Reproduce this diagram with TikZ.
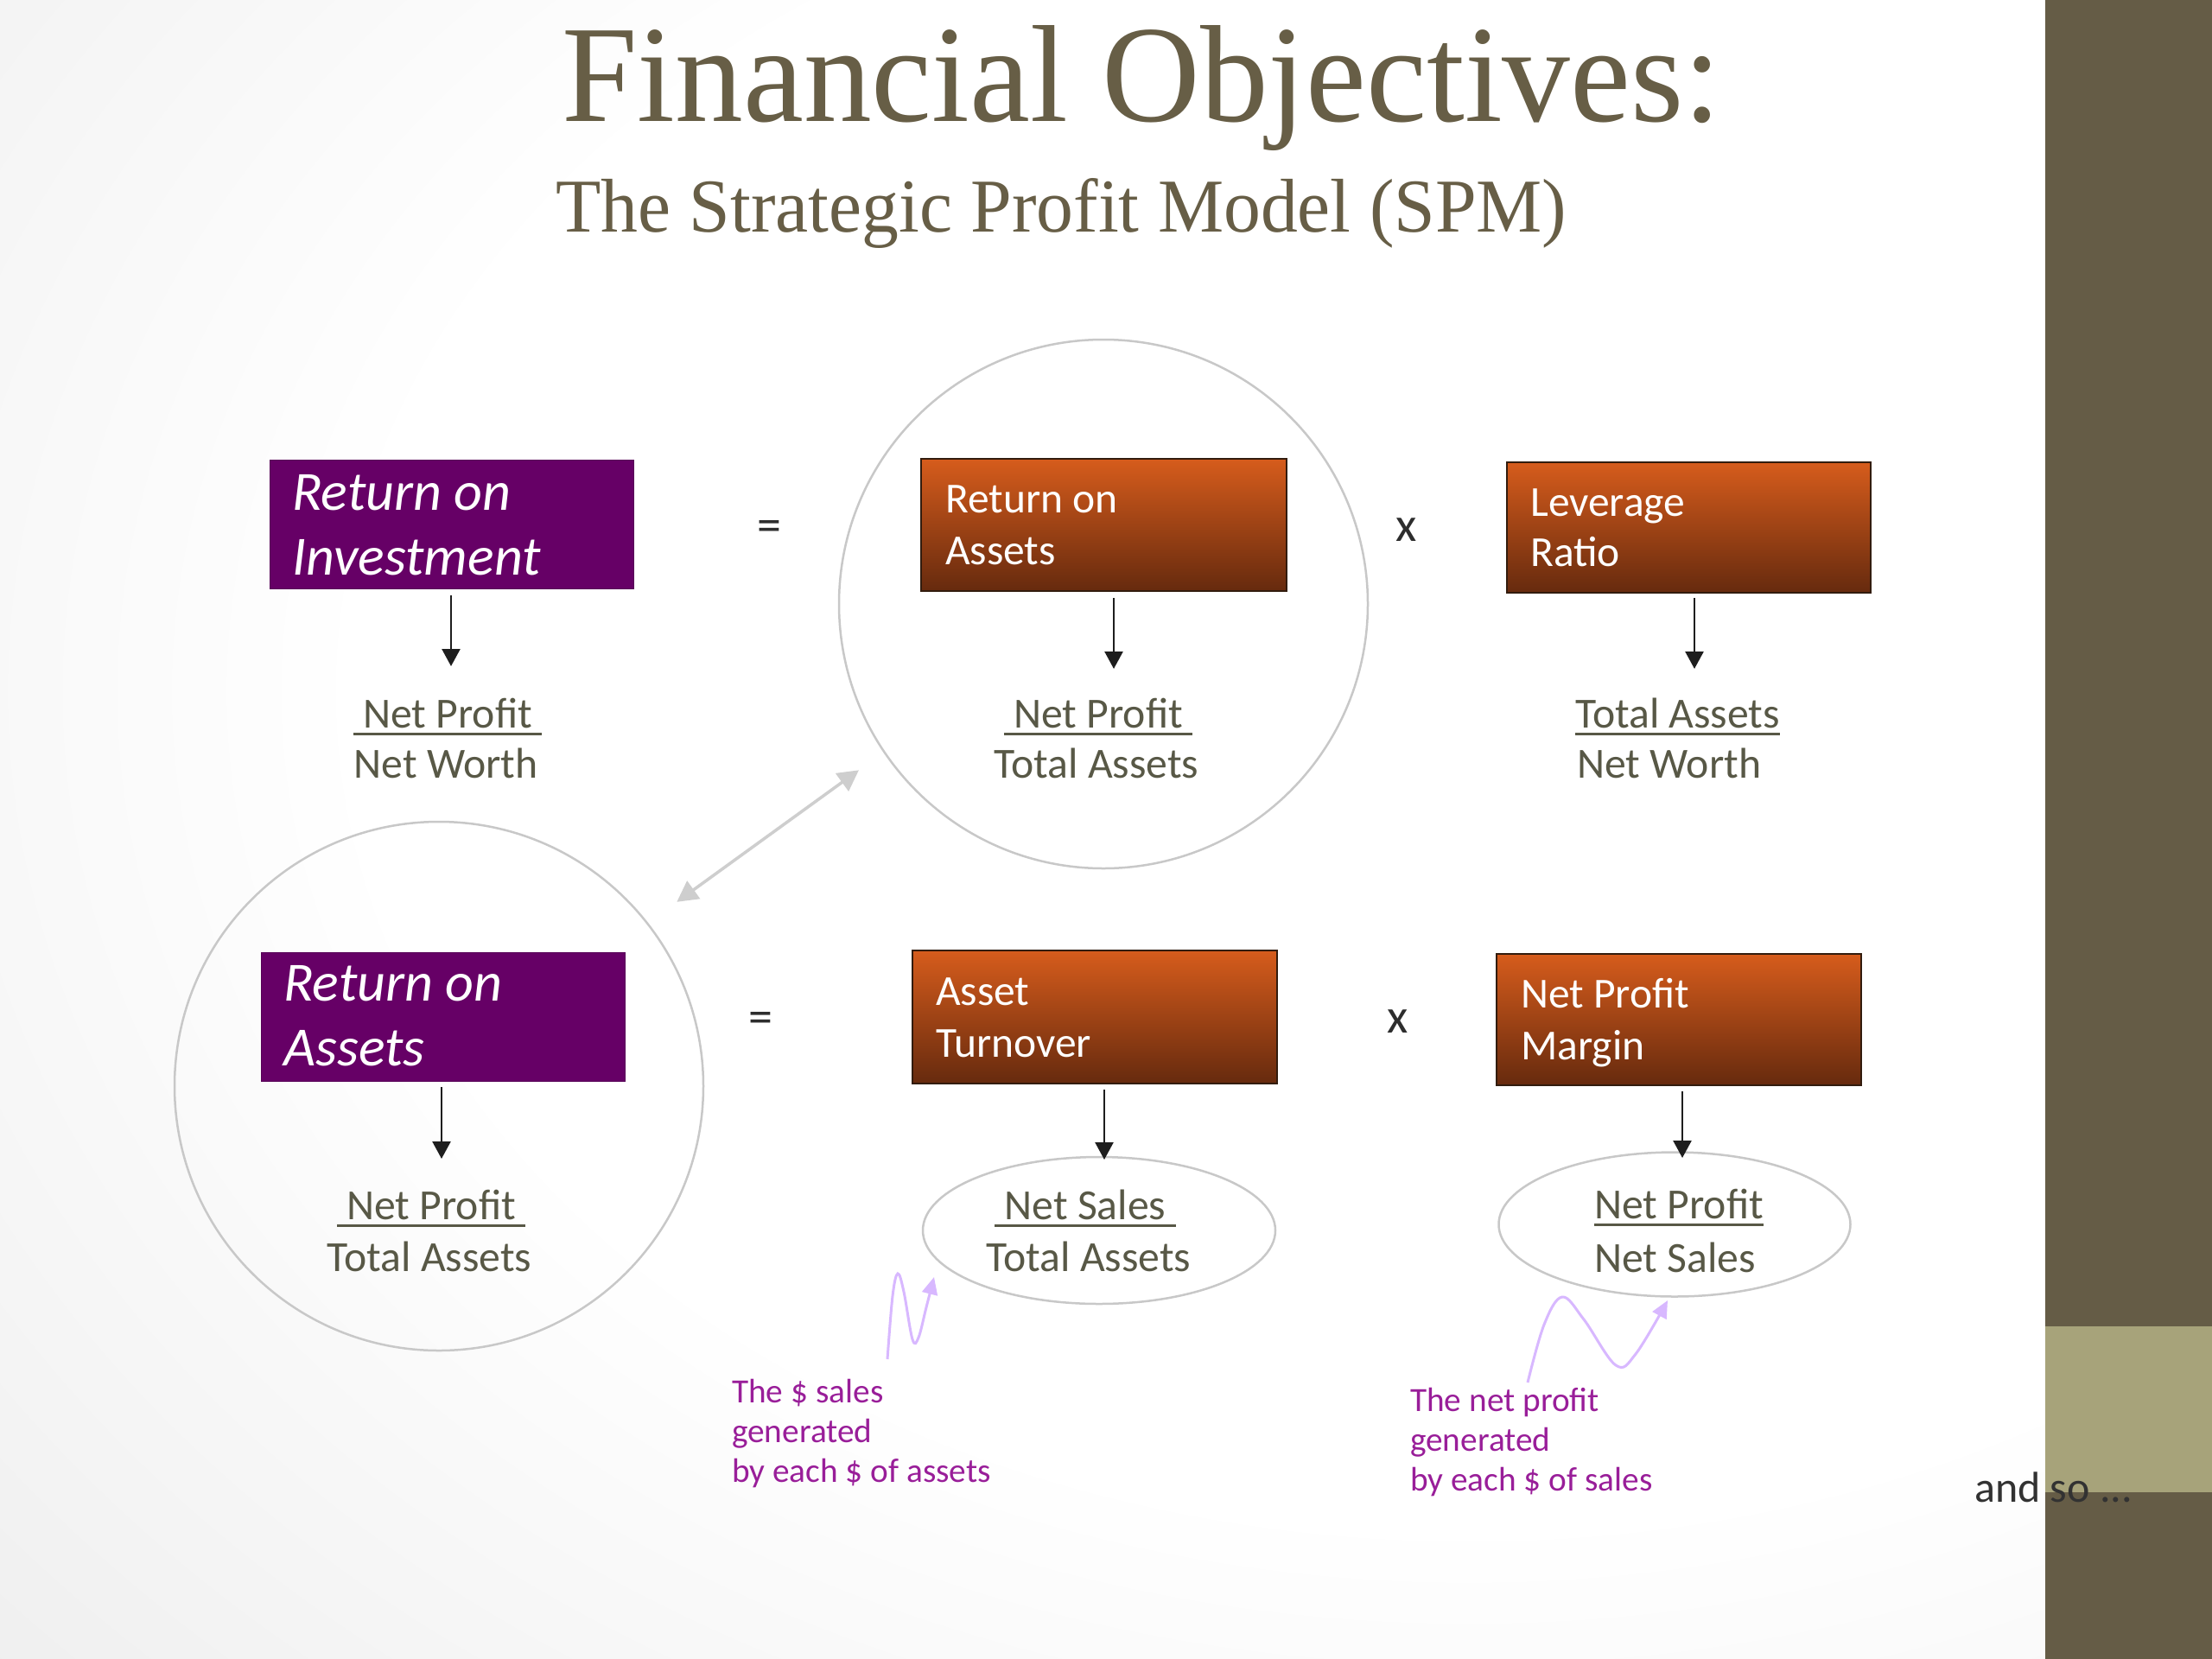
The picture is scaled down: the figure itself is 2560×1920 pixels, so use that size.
\documentclass[tikz,border=0pt]{standalone}
\usepackage{fontspec}
\setmainfont{Carlito}
\newfontfamily\titlefont{Liberation Serif}
\usepackage{graphicx}
\usetikzlibrary{arrows.meta,shapes.geometric}
\definecolor{bggray}{RGB}{212,212,212}
\definecolor{titleC}{RGB}{103,94,70}
\definecolor{fracC}{RGB}{88,88,70}
\definecolor{annoC}{RGB}{153,30,153}
\definecolor{squigC}{RGB}{216,184,255}
\definecolor{circleC}{RGB}{200,200,200}
\definecolor{grayArr}{RGB}{206,206,206}
\definecolor{sideDark}{RGB}{101,92,70}
\definecolor{sideLight}{RGB}{167,163,122}
\definecolor{andsoC}{RGB}{50,50,50}
\definecolor{opC}{RGB}{45,45,45}
\definecolor{roiPurple}{RGB}{102,0,102}
\definecolor{oTop}{RGB}{214,92,28}
\definecolor{oMid}{RGB}{184,76,22}
\definecolor{oBot}{RGB}{102,42,14}
\definecolor{oBorder}{RGB}{50,28,14}
\definecolor{arrC}{RGB}{30,30,30}
\pgfdeclareradialshading{bgshade}{\pgfpoint{0bp}{0bp}}{color(0bp)=(white); color(16bp)=(white); color(50bp)=(bggray)}
\newcommand\fracul[1]{\setbox0\hbox{#1}\rlap{\rule[-9pt]{\wd0}{3pt}}\box0}
\begin{document}
\begin{tikzpicture}[x=1pt,y=-1pt,
  pbox/.style={rectangle, fill=roiPurple, draw=roiPurple!85!black, line width=1pt, inner sep=0pt},
  obox/.style={rectangle, draw=oBorder, line width=2.5pt, top color=oTop, middle color=oMid, bottom color=oBot, inner sep=0pt},
  ptext/.style={inner sep=0pt, anchor=base west, text=white, font=\fontsize{64}{75}\selectfont\itshape},
  otext/.style={inner sep=0pt, anchor=base west, text=white, font=\fontsize{49.5}{60}\selectfont},
  ftext/.style={inner sep=0pt, text=fracC, font=\fontsize{49.7}{58}\selectfont},
  atext/.style={inner sep=0pt, anchor=base west, text=annoC, font=\fontsize{39.3}{46}\selectfont},
  optext/.style={inner sep=0pt, anchor=base, text=opC, font=\fontsize{56}{60}\selectfont},
  bigcircle/.style={circle, draw=circleC, line width=2.5pt, minimum size=612pt, inner sep=0pt},
  oval/.style={ellipse, draw=circleC, line width=2.5pt, inner sep=0pt},
  darr/.style={draw=arrC, line width=2.5pt, -{Triangle[width=21pt,length=20pt]}},
  garr/.style={draw=grayArr, line width=3.5pt, {Triangle[width=25pt,length=24pt]}-{Triangle[width=25pt,length=24pt]}},
  squig/.style={draw=squigC, line width=3pt, -{Triangle[width=18pt,length=20pt]}}
]
\useasboundingbox (0,0) rectangle (2560,1920);
\begin{scope}
\clip (0,0) rectangle (2560,1920);
\shade[shading=bgshade] (-300,-700) rectangle (3700,2300);
\end{scope}
% side bar
\fill[sideDark] (2367,0) rectangle (2560,1920);
\fill[sideLight] (2367,1535) rectangle (2560,1727);

% title
\node[anchor=base west, inner sep=0pt, text=titleC] (title) at (650,140) {\resizebox{1342pt}{111pt}{\titlefont Financial Objectives:}};
\node[anchor=base west, inner sep=0pt, text=titleC] (subtitle) at (643,268) {\resizebox{1170pt}{62pt}{\titlefont The Strategic Profit Model (SPM)}};

% circles and ovals
\node[bigcircle] (cTop) at (1277,699) {};
\node[bigcircle] (cBot) at (508,1257) {};
\node[oval, minimum width=408pt, minimum height=170pt] (atOval) at (1272,1424) {};
\node[oval, minimum width=407pt, minimum height=167pt] (npOval) at (1938,1417) {};

% boxes
\node[pbox, minimum width=421pt, minimum height=149pt] (roi) at (522.5,606.5) {};
\node[obox, minimum width=423pt, minimum height=153pt] (roaT) at (1277.5,607.5) {};
\node[obox, minimum width=421pt, minimum height=151pt] (lev) at (1954.5,610.5) {};
\node[pbox, minimum width=421pt, minimum height=149pt] (roaB) at (512.5,1176.5) {};
\node[obox, minimum width=422pt, minimum height=154pt] (at) at (1267,1177) {};
\node[obox, minimum width=422pt, minimum height=152pt] (npm) at (1943,1180) {};

% box texts
\node[ptext] (roi1) at (338,590) {Return on};
\node[ptext] (roi2) at (338,665) {Investment};
\node[otext] (roaT1) at (1094,593) {Return on};
\node[otext] (roaT2) at (1094,653) {Assets};
\node[otext] (lev1) at (1771,597) {Leverage};
\node[otext] (lev2) at (1771,655) {Ratio};
\node[ptext] (roaB1) at (328,1158) {Return on};
\node[ptext] (roaB2) at (328,1233) {Assets};
\node[otext] (at1) at (1083,1163) {Asset};
\node[otext] (at2) at (1083,1223) {Turnover};
\node[otext] (npm1) at (1760,1166) {Net Profit};
\node[otext] (npm2) at (1760,1226) {Margin};

% operators
\node[optext] (eq1) at (890,626) {=};
\node[optext] (x1) at (1628,626) {x};
\node[optext] (eq2) at (880,1195) {=};
\node[optext] (x2) at (1618,1195) {x};

% fractions
\node[ftext, anchor=base] (f1n) at (518,842) {\fracul{\ Net Profit\ }};
\node[ftext, anchor=base] (f1d) at (516,900) {Net Worth};
\node[ftext, anchor=base] (f2n) at (1271,842) {\fracul{\ Net Profit\ }};
\node[ftext, anchor=base] (f2d) at (1269,900) {Total Assets};
\node[ftext, anchor=base west] (f3n) at (1823,842) {\fracul{Total Assets}};
\node[ftext, anchor=base west] (f3d) at (1825,900) {Net Worth};
\node[ftext, anchor=base] (f4n) at (499,1411) {\fracul{\ Net Profit\ }};
\node[ftext, anchor=base] (f4d) at (497,1471) {Total Assets};
\node[ftext, anchor=base] (f5n) at (1256,1411) {\fracul{\ Net Sales\ }};
\node[ftext, anchor=base] (f5d) at (1260,1471) {Total Assets};
\node[ftext, anchor=base west] (f6n) at (1845,1410) {\fracul{Net Profit}};
\node[ftext, anchor=base west] (f6d) at (1845,1472) {Net Sales};

% down arrows
\coordinate (a1s) at (522,689);  \coordinate (a1e) at (522,771);
\coordinate (a2s) at (1289,692); \coordinate (a2e) at (1289,774);
\coordinate (a3s) at (1961,692); \coordinate (a3e) at (1961,774);
\coordinate (a4s) at (511,1258); \coordinate (a4e) at (511,1341);
\coordinate (a5s) at (1278,1261); \coordinate (a5e) at (1278,1342);
\coordinate (a6s) at (1947,1263); \coordinate (a6e) at (1947,1340);
\draw[darr] (a1s) -- (a1e);
\draw[darr] (a2s) -- (a2e);
\draw[darr] (a3s) -- (a3e);
\draw[darr] (a4s) -- (a4e);
\draw[darr] (a5s) -- (a5e);
\draw[darr] (a6s) -- (a6e);

% double arrow between circles
\draw[garr, shorten <=41pt, shorten >=35pt] (cBot.38.7) -- (cTop.214);

% annotations
\node[atext] (an1a) at (847,1623) {The \$ sales};
\node[atext] (an1b) at (847,1669) {generated};
\node[atext] (an1c) at (847,1715) {by each \$ of assets};
\node[atext] (an2a) at (1632,1633) {The net profit};
\node[atext] (an2b) at (1632,1679) {generated};
\node[atext] (an2c) at (1632,1725) {by each \$ of sales};

\draw[squig] plot[smooth, tension=0.6] coordinates {(1027,1573) (1033,1500) (1039,1474) (1046,1495) (1056,1550) (1063,1548) (1072,1513) (1081,1478)};
\draw[squig] plot[smooth, tension=0.6] coordinates {(1768,1600) (1787,1533) (1808,1501) (1833,1527) (1870,1580) (1893,1567) (1930,1505)};

% and so
\node[inner sep=0pt, anchor=base west, text=andsoC, font=\fontsize{50}{52}\selectfont] (andso) at (2285,1738) {and so ...};
\end{tikzpicture}
\end{document}
